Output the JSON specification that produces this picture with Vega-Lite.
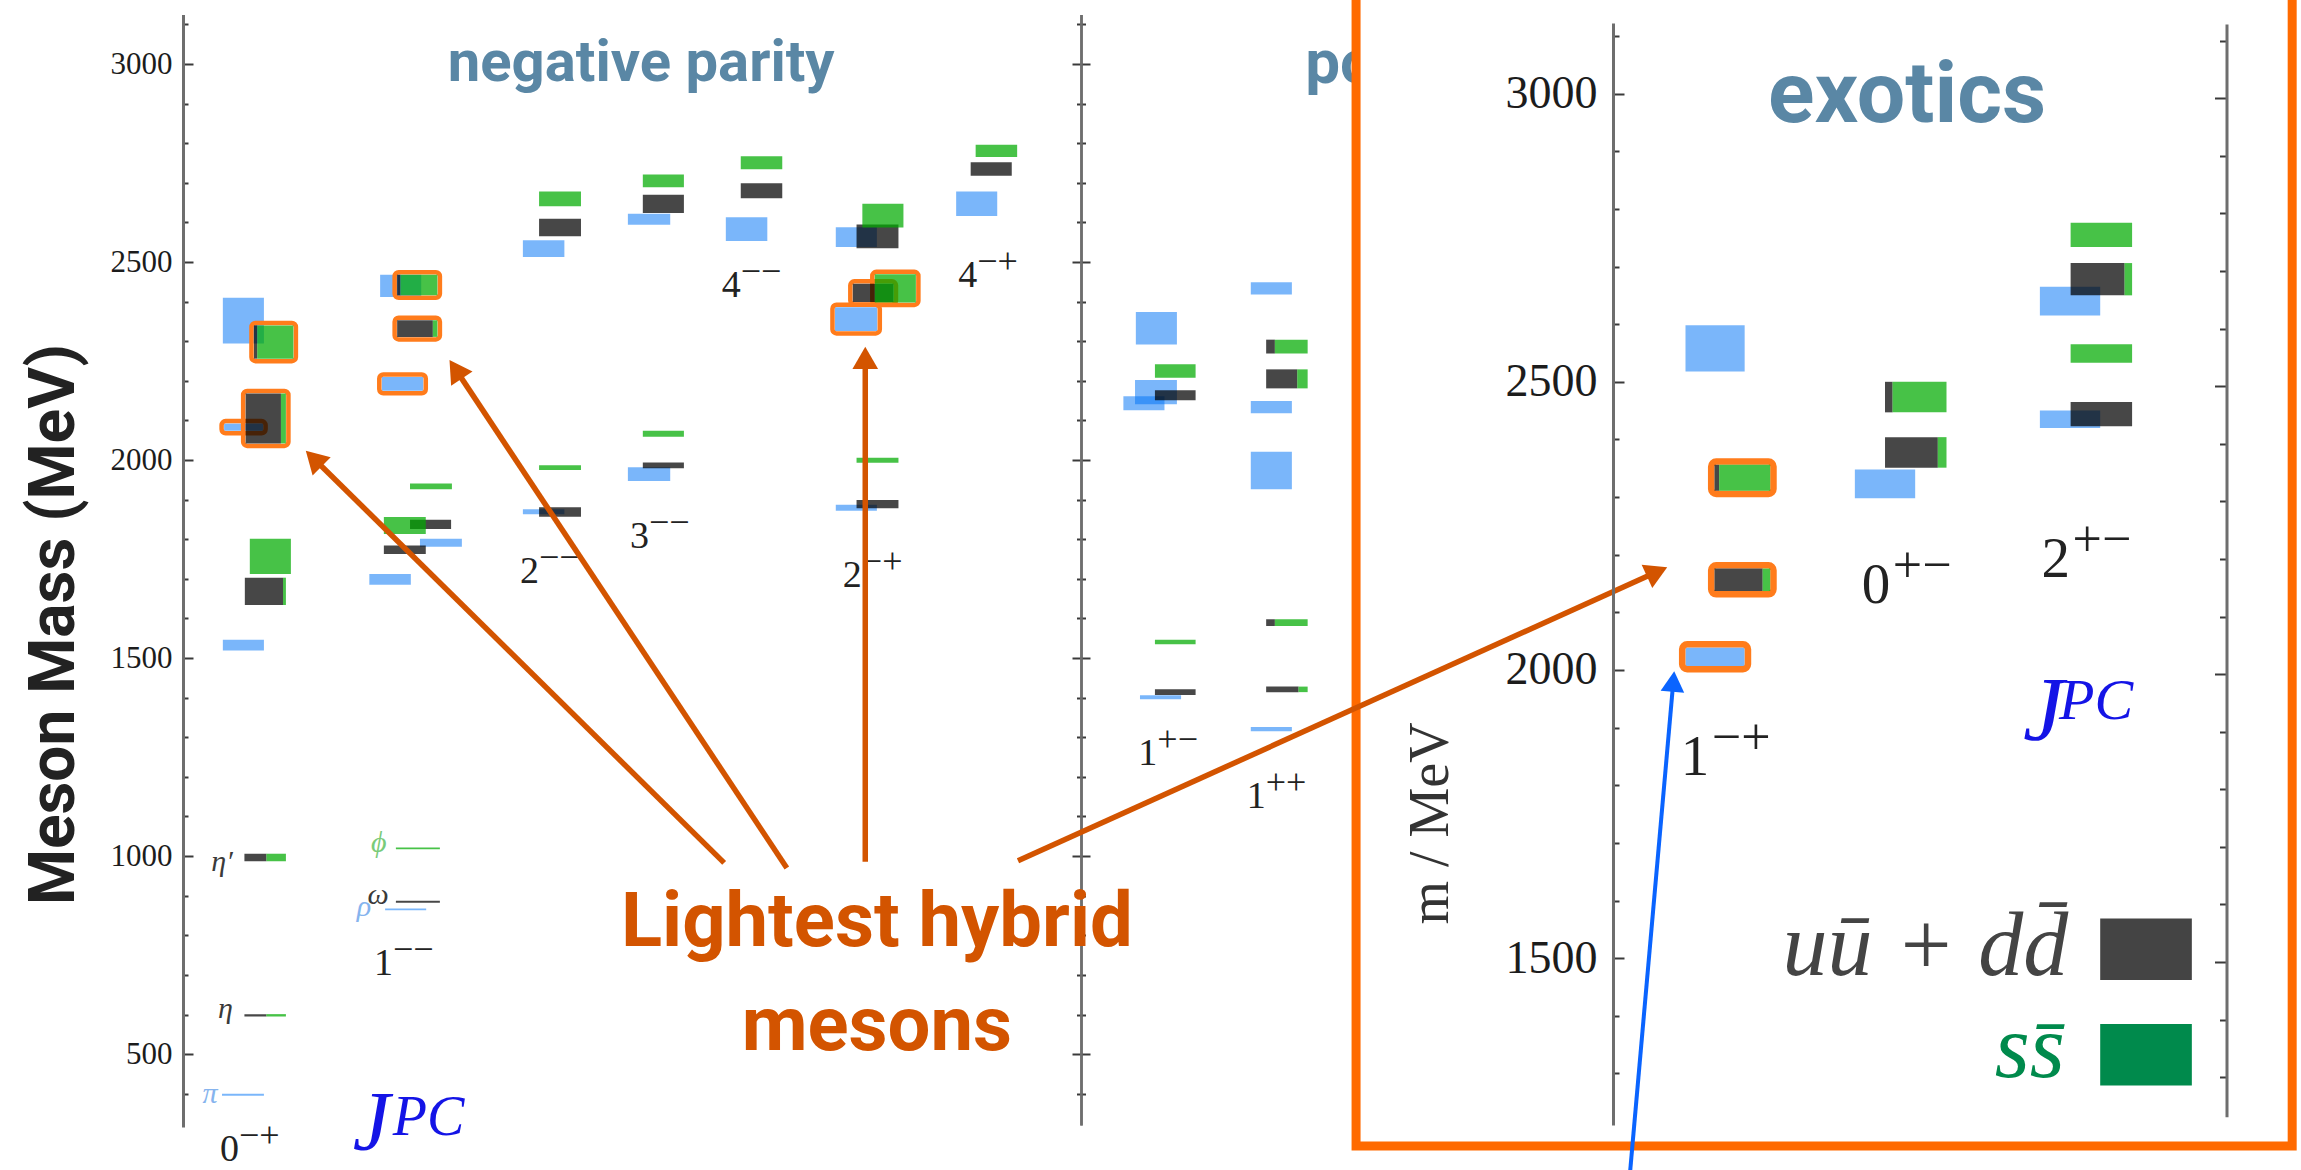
{
  "$schema": "https://vega.github.io/schema/vega-lite/v6.json",
  "width": 2301,
  "height": 1170,
  "autosize": {"type": "none"},
  "padding": 0,
  "background": "#ffffff",
  "config": {"view": {"stroke": null}, "font": "Liberation Serif"},
  "datasets": {
    "leftBoxes": [
      {"x1": 0.96, "x2": 1.95, "lo": 2294, "hi": 2410, "flavor": "isovector"},
      {"x1": 0.99, "x2": 1.93, "lo": 2074, "hi": 2092, "flavor": "isovector"},
      {"x1": 0.96, "x2": 1.95, "lo": 1519, "hi": 1546, "flavor": "isovector"},
      {"x1": 0.94, "x2": 1.95, "lo": 395, "hi": 400, "flavor": "isovector"},
      {"x1": 4.75, "x2": 5.74, "lo": 2412, "hi": 2468, "flavor": "isovector"},
      {"x1": 4.79, "x2": 5.79, "lo": 2175, "hi": 2210, "flavor": "isovector"},
      {"x1": 5.71, "x2": 6.72, "lo": 1781, "hi": 1801, "flavor": "isovector"},
      {"x1": 4.49, "x2": 5.49, "lo": 1685, "hi": 1712, "flavor": "isovector"},
      {"x1": 4.87, "x2": 5.86, "lo": 863, "hi": 868, "flavor": "isovector"},
      {"x1": 8.19, "x2": 9.19, "lo": 2513, "hi": 2555, "flavor": "isovector"},
      {"x1": 8.19, "x2": 9.19, "lo": 1863, "hi": 1876, "flavor": "isovector"},
      {"x1": 10.72, "x2": 11.74, "lo": 2594, "hi": 2622, "flavor": "isovector"},
      {"x1": 10.72, "x2": 11.74, "lo": 1947, "hi": 1982, "flavor": "isovector"},
      {"x1": 13.08, "x2": 14.08, "lo": 2553, "hi": 2613, "flavor": "isovector"},
      {"x1": 15.73, "x2": 16.72, "lo": 2538, "hi": 2588, "flavor": "isovector"},
      {"x1": 15.71, "x2": 16.73, "lo": 2326, "hi": 2386, "flavor": "isovector"},
      {"x1": 15.73, "x2": 16.72, "lo": 1872, "hi": 1887, "flavor": "isovector"},
      {"x1": 18.63, "x2": 19.62, "lo": 2616, "hi": 2678, "flavor": "isovector"},
      {"x1": 22.96, "x2": 23.95, "lo": 2292, "hi": 2374, "flavor": "isovector"},
      {"x1": 22.94, "x2": 23.95, "lo": 2141, "hi": 2202, "flavor": "isovector"},
      {"x1": 22.66, "x2": 23.65, "lo": 2126, "hi": 2161, "flavor": "isovector"},
      {"x1": 23.06, "x2": 24.05, "lo": 1396, "hi": 1406, "flavor": "isovector"},
      {"x1": 25.73, "x2": 26.72, "lo": 2418, "hi": 2449, "flavor": "isovector"},
      {"x1": 25.73, "x2": 26.72, "lo": 2118, "hi": 2149, "flavor": "isovector"},
      {"x1": 25.73, "x2": 26.72, "lo": 1926, "hi": 2021, "flavor": "isovector"},
      {"x1": 25.73, "x2": 26.72, "lo": 1315, "hi": 1326, "flavor": "isovector"},
      {"x1": 1.71, "x2": 1.79, "lo": 2256, "hi": 2340, "flavor": "light"},
      {"x1": 1.51, "x2": 2.36, "lo": 2042, "hi": 2168, "flavor": "light"},
      {"x1": 1.49, "x2": 2.41, "lo": 1634, "hi": 1703, "flavor": "light"},
      {"x1": 1.48, "x2": 2.01, "lo": 987, "hi": 1006, "flavor": "light"},
      {"x1": 1.48, "x2": 2.01, "lo": 595, "hi": 601, "flavor": "light"},
      {"x1": 5.16, "x2": 5.24, "lo": 2416, "hi": 2468, "flavor": "light"},
      {"x1": 5.16, "x2": 6.02, "lo": 2311, "hi": 2353, "flavor": "light"},
      {"x1": 5.47, "x2": 6.46, "lo": 1826, "hi": 1849, "flavor": "light"},
      {"x1": 4.84, "x2": 5.85, "lo": 1763, "hi": 1784, "flavor": "light"},
      {"x1": 5.13, "x2": 6.19, "lo": 882, "hi": 887, "flavor": "light"},
      {"x1": 8.58, "x2": 9.59, "lo": 2565, "hi": 2609, "flavor": "light"},
      {"x1": 8.58, "x2": 9.59, "lo": 1857, "hi": 1881, "flavor": "light"},
      {"x1": 11.08, "x2": 12.07, "lo": 2624, "hi": 2670, "flavor": "light"},
      {"x1": 11.08, "x2": 12.07, "lo": 1979, "hi": 1994, "flavor": "light"},
      {"x1": 13.44, "x2": 14.44, "lo": 2661, "hi": 2699, "flavor": "light"},
      {"x1": 16.23, "x2": 17.24, "lo": 2535, "hi": 2595, "flavor": "light"},
      {"x1": 16.14, "x2": 17.12, "lo": 2399, "hi": 2445, "flavor": "light"},
      {"x1": 16.23, "x2": 17.24, "lo": 1878, "hi": 1899, "flavor": "light"},
      {"x1": 18.98, "x2": 19.97, "lo": 2718, "hi": 2752, "flavor": "light"},
      {"x1": 23.42, "x2": 24.4, "lo": 2151, "hi": 2176, "flavor": "light"},
      {"x1": 23.42, "x2": 24.4, "lo": 1407, "hi": 1421, "flavor": "light"},
      {"x1": 26.1, "x2": 26.31, "lo": 2269, "hi": 2304, "flavor": "light"},
      {"x1": 26.1, "x2": 26.85, "lo": 2181, "hi": 2229, "flavor": "light"},
      {"x1": 26.1, "x2": 26.31, "lo": 1581, "hi": 1598, "flavor": "light"},
      {"x1": 26.1, "x2": 26.88, "lo": 1414, "hi": 1428, "flavor": "light"},
      {"x1": 1.79, "x2": 2.66, "lo": 2256, "hi": 2340, "flavor": "strange"},
      {"x1": 2.36, "x2": 2.48, "lo": 2042, "hi": 2168, "flavor": "strange"},
      {"x1": 1.61, "x2": 2.6, "lo": 1712, "hi": 1801, "flavor": "strange"},
      {"x1": 2.41, "x2": 2.48, "lo": 1634, "hi": 1703, "flavor": "strange"},
      {"x1": 2.01, "x2": 2.48, "lo": 987, "hi": 1006, "flavor": "strange"},
      {"x1": 2.01, "x2": 2.48, "lo": 595, "hi": 601, "flavor": "strange"},
      {"x1": 5.24, "x2": 6.13, "lo": 2416, "hi": 2468, "flavor": "strange"},
      {"x1": 6.02, "x2": 6.13, "lo": 2311, "hi": 2353, "flavor": "strange"},
      {"x1": 5.47, "x2": 6.48, "lo": 1926, "hi": 1941, "flavor": "strange"},
      {"x1": 4.84, "x2": 5.85, "lo": 1813, "hi": 1856, "flavor": "strange"},
      {"x1": 5.13, "x2": 6.19, "lo": 1017, "hi": 1022, "flavor": "strange"},
      {"x1": 8.58, "x2": 9.59, "lo": 2641, "hi": 2678, "flavor": "strange"},
      {"x1": 8.58, "x2": 9.59, "lo": 1975, "hi": 1987, "flavor": "strange"},
      {"x1": 11.08, "x2": 12.07, "lo": 2689, "hi": 2721, "flavor": "strange"},
      {"x1": 11.08, "x2": 12.07, "lo": 2059, "hi": 2074, "flavor": "strange"},
      {"x1": 13.44, "x2": 14.44, "lo": 2734, "hi": 2767, "flavor": "strange"},
      {"x1": 16.37, "x2": 17.36, "lo": 2587, "hi": 2647, "flavor": "strange"},
      {"x1": 16.67, "x2": 17.66, "lo": 2398, "hi": 2469, "flavor": "strange"},
      {"x1": 16.23, "x2": 17.24, "lo": 1993, "hi": 2006, "flavor": "strange"},
      {"x1": 19.1, "x2": 20.1, "lo": 2765, "hi": 2796, "flavor": "strange"},
      {"x1": 23.42, "x2": 24.4, "lo": 2208, "hi": 2242, "flavor": "strange"},
      {"x1": 23.42, "x2": 24.4, "lo": 1535, "hi": 1546, "flavor": "strange"},
      {"x1": 26.31, "x2": 27.1, "lo": 2269, "hi": 2304, "flavor": "strange"},
      {"x1": 26.85, "x2": 27.1, "lo": 2181, "hi": 2229, "flavor": "strange"},
      {"x1": 26.31, "x2": 27.1, "lo": 1581, "hi": 1598, "flavor": "strange"},
      {"x1": 26.88, "x2": 27.1, "lo": 1414, "hi": 1428, "flavor": "strange"}
    ],
    "leftHybrids": [
      {"x1": 1.71, "x2": 2.66, "lo": 2256, "hi": 2340},
      {"x1": 1.51, "x2": 2.48, "lo": 2042, "hi": 2168},
      {"x1": 0.99, "x2": 1.93, "lo": 2074, "hi": 2092},
      {"x1": 5.16, "x2": 6.13, "lo": 2416, "hi": 2468},
      {"x1": 5.16, "x2": 6.13, "lo": 2311, "hi": 2353},
      {"x1": 4.79, "x2": 5.79, "lo": 2175, "hi": 2210},
      {"x1": 15.71, "x2": 16.73, "lo": 2326, "hi": 2386},
      {"x1": 16.14, "x2": 17.12, "lo": 2399, "hi": 2445},
      {"x1": 16.67, "x2": 17.66, "lo": 2398, "hi": 2469}
    ],
    "leftGreek": [
      {"u": 0.65, "m": 377, "label": "π", "flavor": "isovector"},
      {"u": 1.02, "m": 591, "label": "η", "flavor": "light"},
      {"u": 0.94, "m": 962, "label": "η′", "flavor": "light"},
      {"u": 4.72, "m": 1010, "label": "ϕ", "flavor": "strange"},
      {"u": 4.7, "m": 880, "label": "ω", "flavor": "light"},
      {"u": 4.36, "m": 849, "label": "ρ", "flavor": "isovector"}
    ],
    "leftJPC": [
      {"u": 0.89, "m": 229, "J": "0", "PC": "−+"},
      {"u": 4.6, "m": 700, "J": "1", "PC": "−−"},
      {"u": 8.12, "m": 1689, "J": "2", "PC": "−−"},
      {"u": 10.77, "m": 1777, "J": "3", "PC": "−−"},
      {"u": 12.98, "m": 2412, "J": "4", "PC": "−−"},
      {"u": 15.9, "m": 1680, "J": "2", "PC": "−+"},
      {"u": 18.68, "m": 2438, "J": "4", "PC": "−+"},
      {"u": 23.02, "m": 1230, "J": "1", "PC": "+−"},
      {"u": 25.63, "m": 1121, "J": "1", "PC": "++"}
    ],
    "leftJ": [{"u": 4.09, "m": 258, "base": "J", "sup": "PC"}],
    "leftTitles": [
      {"u": 11.04, "m": 2956, "title": "negative parity", "side": "negative"},
      {"u": 27.04, "m": 2952, "title": "po", "side": "positive"}
    ],
    "insetFrame": [{"x1": -4.43, "x2": 11.71, "lo": 1174, "hi": 3197}],
    "insetBoxes": [
      {"x1": 1.25, "x2": 2.27, "lo": 2518, "hi": 2598, "flavor": "isovector"},
      {"x1": 1.25, "x2": 2.27, "lo": 2007, "hi": 2039, "flavor": "isovector"},
      {"x1": 4.17, "x2": 5.21, "lo": 2298, "hi": 2348, "flavor": "isovector"},
      {"x1": 7.36, "x2": 8.4, "lo": 2615, "hi": 2665, "flavor": "isovector"},
      {"x1": 7.36, "x2": 8.4, "lo": 2420, "hi": 2450, "flavor": "isovector"},
      {"x1": 1.75, "x2": 1.83, "lo": 2311, "hi": 2356, "flavor": "light"},
      {"x1": 1.75, "x2": 2.58, "lo": 2137, "hi": 2176, "flavor": "light"},
      {"x1": 4.69, "x2": 5.6, "lo": 2351, "hi": 2404, "flavor": "light"},
      {"x1": 4.69, "x2": 4.82, "lo": 2447, "hi": 2500, "flavor": "light"},
      {"x1": 7.89, "x2": 8.82, "lo": 2650, "hi": 2706, "flavor": "light"},
      {"x1": 7.89, "x2": 8.95, "lo": 2423, "hi": 2465, "flavor": "light"},
      {"x1": 1.83, "x2": 2.71, "lo": 2311, "hi": 2356, "flavor": "strange"},
      {"x1": 2.58, "x2": 2.71, "lo": 2137, "hi": 2176, "flavor": "strange"},
      {"x1": 5.6, "x2": 5.75, "lo": 2351, "hi": 2404, "flavor": "strange"},
      {"x1": 4.82, "x2": 5.75, "lo": 2447, "hi": 2500, "flavor": "strange"},
      {"x1": 7.89, "x2": 8.95, "lo": 2734, "hi": 2776, "flavor": "strange"},
      {"x1": 8.82, "x2": 8.95, "lo": 2650, "hi": 2706, "flavor": "strange"},
      {"x1": 7.89, "x2": 8.95, "lo": 2533, "hi": 2565, "flavor": "strange"}
    ],
    "insetHybrids": [
      {"x1": 1.75, "x2": 2.71, "lo": 2311, "hi": 2356},
      {"x1": 1.75, "x2": 2.71, "lo": 2137, "hi": 2176},
      {"x1": 1.25, "x2": 2.27, "lo": 2007, "hi": 2039}
    ],
    "insetJPC": [
      {"v": 1.17, "m": 1818, "J": "1", "PC": "−+"},
      {"v": 4.29, "m": 2117, "J": "0", "PC": "+−"},
      {"v": 7.39, "m": 2161, "J": "2", "PC": "+−"}
    ],
    "insetJ": [{"v": 7.07, "m": 1879, "base": "J", "sup": "PC"}],
    "insetTitle": [{"v": 5.07, "m": 2951, "title": "exotics"}],
    "insetLegend": [
      {"flavor": "light", "label": "uū + dd̄", "tv": 7.85, "tm": 1471, "x1": 8.4, "x2": 9.98, "lo": 1462, "hi": 1569},
      {"flavor": "strange", "label": "ss̄", "tv": 7.79, "tm": 1294, "x1": 8.4, "x2": 9.98, "lo": 1279, "hi": 1386}
    ],
    "blueArrow": [{"v1": 0.29, "m1": 1124, "v2": 1.04, "m2": 1980, "heading": 5.1}],
    "arrows": [
      {"u1": 13.04, "m1": 983, "u2": 3.15, "m2": 2004, "heading": -45.4},
      {"u1": 14.55, "m1": 970, "u2": 6.57, "m2": 2229, "heading": -33.6},
      {"u1": 16.44, "m1": 986, "u2": 16.44, "m2": 2258, "heading": 0},
      {"u1": 20.12, "m1": 988, "u2": 35.52, "m2": 1718, "heading": 65.6}
    ],
    "callout": [{"u": 16.72, "m": 774, "note": "Lightest hybrid|mesons"}],
    "axisAnchor": [{"m": 2000}]
  },
  "layer": [
    {
      "layer": [
        {
          "data": {"name": "leftBoxes"},
          "transform": [{"filter": "datum.flavor === 'isovector'"}],
          "mark": {"type": "rect"},
          "encoding": {
            "x": {"field": "x1", "type": "quantitative", "scale": {"domain": [0, 10], "range": [183, 598], "nice": false, "zero": false}, "axis": null},
            "x2": {"field": "x2"},
            "y": {"field": "lo", "type": "quantitative", "scale": {"domain": [316, 3125], "range": [1127, 14.5], "nice": false, "zero": false}, "axis": null},
            "y2": {"field": "hi"},
            "fill": {"field": "flavor", "type": "nominal", "scale": {"domain": ["isovector", "light", "strange"], "range": ["rgba(0,115,245,0.52)", "rgba(0,0,0,0.72)", "rgba(0,171,0,0.72)"]}, "legend": null}
          }
        },
        {
          "data": {"name": "leftHybrids"},
          "mark": {"type": "rect", "fill": "#ffffff", "fillOpacity": 0, "stroke": "#ff7c1c", "strokeWidth": 4.5, "cornerRadius": 4, "xOffset": -2.5, "x2Offset": 2.5, "yOffset": 2.5, "y2Offset": -2.5},
          "encoding": {
            "x": {"field": "x1", "type": "quantitative", "scale": {"domain": [0, 10], "range": [183, 598], "nice": false, "zero": false}, "axis": null},
            "x2": {"field": "x2"},
            "y": {"field": "lo", "type": "quantitative", "scale": {"domain": [316, 3125], "range": [1127, 14.5], "nice": false, "zero": false}, "axis": null},
            "y2": {"field": "hi"}
          }
        },
        {
          "data": {"name": "leftBoxes"},
          "transform": [{"filter": "datum.flavor !== 'isovector'"}],
          "mark": {"type": "rect"},
          "encoding": {
            "x": {"field": "x1", "type": "quantitative", "scale": {"domain": [0, 10], "range": [183, 598], "nice": false, "zero": false}, "axis": null},
            "x2": {"field": "x2"},
            "y": {"field": "lo", "type": "quantitative", "scale": {"domain": [316, 3125], "range": [1127, 14.5], "nice": false, "zero": false}, "axis": null},
            "y2": {"field": "hi"},
            "fill": {"field": "flavor", "type": "nominal", "scale": {"domain": ["isovector", "light", "strange"], "range": ["rgba(0,115,245,0.52)", "rgba(0,0,0,0.72)", "rgba(0,171,0,0.72)"]}, "legend": null}
          }
        },
        {
          "data": {"name": "leftGreek"},
          "mark": {"type": "text", "font": "Liberation Serif", "fontStyle": "italic", "fontSize": 30, "align": "center", "baseline": "alphabetic"},
          "encoding": {
            "x": {"field": "u", "type": "quantitative", "scale": {"domain": [0, 10], "range": [183, 598], "nice": false, "zero": false}, "axis": null},
            "y": {"field": "m", "type": "quantitative", "scale": {"domain": [316, 3125], "range": [1127, 14.5], "nice": false, "zero": false}, "axis": null},
            "text": {"field": "label"},
            "color": {"field": "flavor", "type": "nominal", "scale": {"domain": ["isovector", "light", "strange"], "range": ["#86b4ee", "#3a3a3a", "#7acb7a"]}, "legend": null}
          }
        },
        {
          "data": {"name": "leftJPC"},
          "mark": {"type": "text", "font": "Liberation Serif", "fontSize": 38, "align": "left", "baseline": "alphabetic", "color": "#222222"},
          "encoding": {
            "x": {"field": "u", "type": "quantitative", "scale": {"domain": [0, 10], "range": [183, 598], "nice": false, "zero": false}, "axis": null},
            "y": {"field": "m", "type": "quantitative", "scale": {"domain": [316, 3125], "range": [1127, 14.5], "nice": false, "zero": false}, "axis": null},
            "text": {"field": "J"}
          }
        },
        {
          "data": {"name": "leftJPC"},
          "mark": {"type": "text", "font": "Liberation Serif", "fontSize": 36, "align": "left", "baseline": "alphabetic", "color": "#222222", "dx": 19, "dy": -14},
          "encoding": {
            "x": {"field": "u", "type": "quantitative", "scale": {"domain": [0, 10], "range": [183, 598], "nice": false, "zero": false}, "axis": null},
            "y": {"field": "m", "type": "quantitative", "scale": {"domain": [316, 3125], "range": [1127, 14.5], "nice": false, "zero": false}, "axis": null},
            "text": {"field": "PC"}
          }
        },
        {
          "data": {"name": "leftJ"},
          "mark": {"type": "text", "font": "Liberation Serif", "fontStyle": "italic", "fontSize": 84, "align": "left", "baseline": "alphabetic", "color": "#1414e6"},
          "encoding": {
            "x": {"field": "u", "type": "quantitative", "scale": {"domain": [0, 10], "range": [183, 598], "nice": false, "zero": false}, "axis": null},
            "y": {"field": "m", "type": "quantitative", "scale": {"domain": [316, 3125], "range": [1127, 14.5], "nice": false, "zero": false}, "axis": null},
            "text": {"field": "base"}
          }
        },
        {
          "data": {"name": "leftJ"},
          "mark": {"type": "text", "font": "Liberation Serif", "fontStyle": "italic", "fontSize": 56, "align": "left", "baseline": "alphabetic", "color": "#1414e6", "dx": 40, "dy": -15},
          "encoding": {
            "x": {"field": "u", "type": "quantitative", "scale": {"domain": [0, 10], "range": [183, 598], "nice": false, "zero": false}, "axis": null},
            "y": {"field": "m", "type": "quantitative", "scale": {"domain": [316, 3125], "range": [1127, 14.5], "nice": false, "zero": false}, "axis": null},
            "text": {"field": "sup"}
          }
        },
        {
          "data": {"name": "leftTitles"},
          "transform": [{"filter": "datum.side === 'negative'"}],
          "mark": {"type": "text", "font": "Roboto", "fontWeight": "bold", "fontSize": 58, "align": "center", "baseline": "alphabetic", "color": "#5a87a5"},
          "encoding": {
            "x": {"field": "u", "type": "quantitative", "scale": {"domain": [0, 10], "range": [183, 598], "nice": false, "zero": false}, "axis": null},
            "y": {"field": "m", "type": "quantitative", "scale": {"domain": [316, 3125], "range": [1127, 14.5], "nice": false, "zero": false}, "axis": null},
            "text": {"field": "title"}
          }
        },
        {
          "data": {"name": "leftTitles"},
          "transform": [{"filter": "datum.side === 'positive'"}],
          "mark": {"type": "text", "font": "Roboto", "fontWeight": "bold", "fontSize": 62, "align": "left", "baseline": "alphabetic", "color": "#5a87a5"},
          "encoding": {
            "x": {"field": "u", "type": "quantitative", "scale": {"domain": [0, 10], "range": [183, 598], "nice": false, "zero": false}, "axis": null},
            "y": {"field": "m", "type": "quantitative", "scale": {"domain": [316, 3125], "range": [1127, 14.5], "nice": false, "zero": false}, "axis": null},
            "text": {"field": "title"}
          }
        }
      ]
    },
    {
      "data": {"name": "axisAnchor"},
      "mark": {"type": "point", "opacity": 0},
      "encoding": {
        "y": {
          "field": "m", "type": "quantitative",
          "scale": {"domain": [316, 3125], "range": [1127, 14.5], "nice": false, "zero": false},
          "axis": {
            "orient": "left", "offset": -183,
            "values": [400, 500, 600, 700, 800, 900, 1000, 1100, 1200, 1300, 1400, 1500, 1600, 1700, 1800, 1900, 2000, 2100, 2200, 2300, 2400, 2500, 2600, 2700, 2800, 2900, 3000, 3100],
            "format": "d",
            "labelExpr": "datum.value % 500 === 0 ? datum.label : ''",
            "tickSize": {"condition": {"test": "datum.value % 500 === 0", "value": -10}, "value": -5},
            "labelPadding": 21,
            "labelFont": "Liberation Serif", "labelFontSize": 31, "labelColor": "#1c1c1c",
            "labelOverlap": false, "labelFlush": false,
            "domainColor": "#6e6e6e", "domainWidth": 3,
            "tickColor": "#3a3a3a", "tickWidth": 2, "grid": false,
            "title": "Meson Mass (MeV)",
            "titleFont": "Roboto",
            "titleFontSize": 64, "titleFontWeight": "bold", "titleColor": "#222222",
            "titleAngle": -90, "titleX": -129, "titleY": 624, "titleAlign": "center", "titleBaseline": "middle",
            "zindex": 0
          }
        }
      }
    },
    {
      "data": {"name": "axisAnchor"},
      "mark": {"type": "point", "opacity": 0},
      "encoding": {
        "y": {
          "field": "m", "type": "quantitative",
          "scale": {"domain": [321, 3125], "range": [1125, 14.5], "nice": false, "zero": false},
          "axis": {
            "orient": "left", "offset": -1081,
            "values": [400, 500, 600, 700, 800, 900, 1000, 1100, 1200, 1300, 1400, 1500, 1600, 1700, 1800, 1900, 2000, 2100, 2200, 2300, 2400, 2500, 2600, 2700, 2800, 2900, 3000, 3100],
            "labels": false,
            "tickSize": {"condition": {"test": "datum.value % 500 === 0", "value": 9}, "value": 4.5},
            "domainColor": "#6e6e6e", "domainWidth": 2.5, "tickColor": "#3a3a3a", "tickWidth": 2,
            "grid": false, "title": null, "zindex": 0
          }
        }
      }
    },
    {
      "data": {"name": "axisAnchor"},
      "mark": {"type": "point", "opacity": 0},
      "encoding": {
        "y": {
          "field": "m", "type": "quantitative",
          "scale": {"domain": [321, 3125], "range": [1125, 14.5], "nice": false, "zero": false},
          "axis": {
            "orient": "right", "offset": -1220,
            "values": [400, 500, 600, 700, 800, 900, 1000, 1100, 1200, 1300, 1400, 1500, 1600, 1700, 1800, 1900, 2000, 2100, 2200, 2300, 2400, 2500, 2600, 2700, 2800, 2900, 3000, 3100],
            "labels": false,
            "tickSize": {"condition": {"test": "datum.value % 500 === 0", "value": 9}, "value": 4.5},
            "domainColor": "#6e6e6e", "domainWidth": 2.5, "tickColor": "#3a3a3a", "tickWidth": 2,
            "grid": false, "title": null, "zindex": 0
          }
        }
      }
    },
    {
      "layer": [
        {
          "data": {"name": "insetFrame"},
          "mark": {"type": "rect", "fill": "#ffffff", "stroke": "#ff6a00", "strokeWidth": 9},
          "encoding": {
            "x": {"field": "x1", "type": "quantitative", "scale": {"domain": [0, 10], "range": [1613, 2193], "nice": false, "zero": false}, "axis": null},
            "x2": {"field": "x2"},
            "y": {"field": "lo", "type": "quantitative", "scale": {"domain": [1210.6, 3122.5], "range": [1125, 23], "nice": false, "zero": false}, "axis": null},
            "y2": {"field": "hi"}
          }
        },
        {
          "data": {"name": "insetBoxes"},
          "transform": [{"filter": "datum.flavor === 'isovector'"}],
          "mark": {"type": "rect"},
          "encoding": {
            "x": {"field": "x1", "type": "quantitative", "scale": {"domain": [0, 10], "range": [1613, 2193], "nice": false, "zero": false}, "axis": null},
            "x2": {"field": "x2"},
            "y": {"field": "lo", "type": "quantitative", "scale": {"domain": [1210.6, 3122.5], "range": [1125, 23], "nice": false, "zero": false}, "axis": null},
            "y2": {"field": "hi"},
            "fill": {"field": "flavor", "type": "nominal", "scale": {"domain": ["isovector", "light", "strange"], "range": ["rgba(0,115,245,0.52)", "rgba(0,0,0,0.72)", "rgba(0,171,0,0.72)"]}, "legend": null}
          }
        },
        {
          "data": {"name": "insetHybrids"},
          "mark": {"type": "rect", "fill": "#ffffff", "fillOpacity": 0, "stroke": "#ff7c1c", "strokeWidth": 6.5, "cornerRadius": 5, "xOffset": -3.3, "x2Offset": 3.3, "yOffset": 3.3, "y2Offset": -3.3},
          "encoding": {
            "x": {"field": "x1", "type": "quantitative", "scale": {"domain": [0, 10], "range": [1613, 2193], "nice": false, "zero": false}, "axis": null},
            "x2": {"field": "x2"},
            "y": {"field": "lo", "type": "quantitative", "scale": {"domain": [1210.6, 3122.5], "range": [1125, 23], "nice": false, "zero": false}, "axis": null},
            "y2": {"field": "hi"}
          }
        },
        {
          "data": {"name": "insetBoxes"},
          "transform": [{"filter": "datum.flavor !== 'isovector'"}],
          "mark": {"type": "rect"},
          "encoding": {
            "x": {"field": "x1", "type": "quantitative", "scale": {"domain": [0, 10], "range": [1613, 2193], "nice": false, "zero": false}, "axis": null},
            "x2": {"field": "x2"},
            "y": {"field": "lo", "type": "quantitative", "scale": {"domain": [1210.6, 3122.5], "range": [1125, 23], "nice": false, "zero": false}, "axis": null},
            "y2": {"field": "hi"},
            "fill": {"field": "flavor", "type": "nominal", "scale": {"domain": ["isovector", "light", "strange"], "range": ["rgba(0,115,245,0.52)", "rgba(0,0,0,0.72)", "rgba(0,171,0,0.72)"]}, "legend": null}
          }
        },
        {
          "data": {"name": "insetJPC"},
          "mark": {"type": "text", "font": "Liberation Serif", "fontSize": 57, "align": "left", "baseline": "alphabetic", "color": "#222222"},
          "encoding": {
            "x": {"field": "v", "type": "quantitative", "scale": {"domain": [0, 10], "range": [1613, 2193], "nice": false, "zero": false}, "axis": null},
            "y": {"field": "m", "type": "quantitative", "scale": {"domain": [1210.6, 3122.5], "range": [1125, 23], "nice": false, "zero": false}, "axis": null},
            "text": {"field": "J"}
          }
        },
        {
          "data": {"name": "insetJPC"},
          "mark": {"type": "text", "font": "Liberation Serif", "fontSize": 52, "align": "left", "baseline": "alphabetic", "color": "#222222", "dx": 31, "dy": -21},
          "encoding": {
            "x": {"field": "v", "type": "quantitative", "scale": {"domain": [0, 10], "range": [1613, 2193], "nice": false, "zero": false}, "axis": null},
            "y": {"field": "m", "type": "quantitative", "scale": {"domain": [1210.6, 3122.5], "range": [1125, 23], "nice": false, "zero": false}, "axis": null},
            "text": {"field": "PC"}
          }
        },
        {
          "data": {"name": "insetJ"},
          "mark": {"type": "text", "font": "Liberation Serif", "fontStyle": "italic", "fontSize": 92, "align": "left", "baseline": "alphabetic", "color": "#1414e6"},
          "encoding": {
            "x": {"field": "v", "type": "quantitative", "scale": {"domain": [0, 10], "range": [1613, 2193], "nice": false, "zero": false}, "axis": null},
            "y": {"field": "m", "type": "quantitative", "scale": {"domain": [1210.6, 3122.5], "range": [1125, 23], "nice": false, "zero": false}, "axis": null},
            "text": {"field": "base"}
          }
        },
        {
          "data": {"name": "insetJ"},
          "mark": {"type": "text", "font": "Liberation Serif", "fontStyle": "italic", "fontSize": 58, "align": "left", "baseline": "alphabetic", "color": "#1414e6", "dx": 36, "dy": -21},
          "encoding": {
            "x": {"field": "v", "type": "quantitative", "scale": {"domain": [0, 10], "range": [1613, 2193], "nice": false, "zero": false}, "axis": null},
            "y": {"field": "m", "type": "quantitative", "scale": {"domain": [1210.6, 3122.5], "range": [1125, 23], "nice": false, "zero": false}, "axis": null},
            "text": {"field": "sup"}
          }
        },
        {
          "data": {"name": "insetTitle"},
          "mark": {"type": "text", "font": "Roboto", "fontWeight": "bold", "fontSize": 86, "align": "center", "baseline": "alphabetic", "color": "#5a87a5"},
          "encoding": {
            "x": {"field": "v", "type": "quantitative", "scale": {"domain": [0, 10], "range": [1613, 2193], "nice": false, "zero": false}, "axis": null},
            "y": {"field": "m", "type": "quantitative", "scale": {"domain": [1210.6, 3122.5], "range": [1125, 23], "nice": false, "zero": false}, "axis": null},
            "text": {"field": "title"}
          }
        },
        {
          "data": {"name": "insetLegend"},
          "mark": {"type": "rect"},
          "encoding": {
            "x": {"field": "x1", "type": "quantitative", "scale": {"domain": [0, 10], "range": [1613, 2193], "nice": false, "zero": false}, "axis": null},
            "x2": {"field": "x2"},
            "y": {"field": "lo", "type": "quantitative", "scale": {"domain": [1210.6, 3122.5], "range": [1125, 23], "nice": false, "zero": false}, "axis": null},
            "y2": {"field": "hi"},
            "color": {"field": "flavor", "type": "nominal", "scale": {"domain": ["light", "strange"], "range": ["#444444", "#008a4c"]}, "legend": null}
          }
        },
        {
          "data": {"name": "insetLegend"},
          "mark": {"type": "text", "font": "Liberation Serif", "fontStyle": "italic", "fontSize": 90, "align": "right", "baseline": "alphabetic"},
          "encoding": {
            "x": {"field": "tv", "type": "quantitative", "scale": {"domain": [0, 10], "range": [1613, 2193], "nice": false, "zero": false}, "axis": null},
            "y": {"field": "tm", "type": "quantitative", "scale": {"domain": [1210.6, 3122.5], "range": [1125, 23], "nice": false, "zero": false}, "axis": null},
            "text": {"field": "label"},
            "color": {"field": "flavor", "type": "nominal", "scale": {"domain": ["light", "strange"], "range": ["#444444", "#008a4c"]}, "legend": null}
          }
        },
        {
          "data": {"name": "blueArrow"},
          "mark": {"type": "rule", "color": "#0a64ff", "strokeWidth": 4},
          "encoding": {
            "x": {"field": "v1", "type": "quantitative", "scale": {"domain": [0, 10], "range": [1613, 2193], "nice": false, "zero": false}, "axis": null},
            "y": {"field": "m1", "type": "quantitative", "scale": {"domain": [1210.6, 3122.5], "range": [1125, 23], "nice": false, "zero": false}, "axis": null},
            "x2": {"field": "v2"},
            "y2": {"field": "m2"}
          }
        },
        {
          "data": {"name": "blueArrow"},
          "mark": {"type": "point", "shape": "triangle-up", "filled": true, "size": 560, "color": "#0a64ff", "opacity": 1},
          "encoding": {
            "x": {"field": "v2", "type": "quantitative", "scale": {"domain": [0, 10], "range": [1613, 2193], "nice": false, "zero": false}, "axis": null},
            "y": {"field": "m2", "type": "quantitative", "scale": {"domain": [1210.6, 3122.5], "range": [1125, 23], "nice": false, "zero": false}, "axis": null},
            "angle": {"field": "heading", "type": "quantitative", "scale": null}
          }
        }
      ]
    },
    {
      "data": {"name": "axisAnchor"},
      "mark": {"type": "point", "opacity": 0},
      "encoding": {
        "y": {
          "field": "m", "type": "quantitative",
          "scale": {"domain": [1210.6, 3122.5], "range": [1125, 23], "nice": false, "zero": false},
          "axis": {
            "orient": "left", "offset": -1613,
            "values": [1300, 1400, 1500, 1600, 1700, 1800, 1900, 2000, 2100, 2200, 2300, 2400, 2500, 2600, 2700, 2800, 2900, 3000, 3100],
            "format": "d",
            "labelExpr": "datum.value % 500 === 0 ? datum.label : ''",
            "tickSize": {"condition": {"test": "datum.value % 500 === 0", "value": -11}, "value": -6},
            "labelPadding": 27,
            "labelFont": "Liberation Serif", "labelFontSize": 46, "labelColor": "#1c1c1c",
            "labelOverlap": false, "labelFlush": false,
            "domainColor": "#6e6e6e", "domainWidth": 3,
            "tickColor": "#3a3a3a", "tickWidth": 2, "grid": false,
            "title": "m / MeV",
            "titleFont": "Liberation Serif", "titleFontSize": 56, "titleFontWeight": "normal", "titleColor": "#333333",
            "titleAngle": -90, "titleX": -183, "titleY": 823, "titleAlign": "center", "titleBaseline": "middle",
            "zindex": 1
          }
        }
      }
    },
    {
      "data": {"name": "axisAnchor"},
      "mark": {"type": "point", "opacity": 0},
      "encoding": {
        "y": {
          "field": "m", "type": "quantitative",
          "scale": {"domain": [1231.3, 3129], "range": [1116.7, 24], "nice": false, "zero": false},
          "axis": {
            "orient": "right", "offset": -74.5,
            "values": [1300, 1400, 1500, 1600, 1700, 1800, 1900, 2000, 2100, 2200, 2300, 2400, 2500, 2600, 2700, 2800, 2900, 3000, 3100],
            "labels": false,
            "tickSize": {"condition": {"test": "datum.value % 500 === 0", "value": -12}, "value": -7},
            "domainColor": "#6e6e6e", "domainWidth": 3, "tickColor": "#3a3a3a", "tickWidth": 2,
            "grid": false, "title": null, "zindex": 1
          }
        }
      }
    },
    {
      "layer": [
        {
          "data": {"name": "arrows"},
          "mark": {"type": "rule", "color": "#d35400", "strokeWidth": 5.5},
          "encoding": {
            "x": {"field": "u1", "type": "quantitative", "scale": {"domain": [0, 10], "range": [183, 598], "nice": false, "zero": false}, "axis": null},
            "y": {"field": "m1", "type": "quantitative", "scale": {"domain": [316, 3125], "range": [1127, 14.5], "nice": false, "zero": false}, "axis": null},
            "x2": {"field": "u2"},
            "y2": {"field": "m2"}
          }
        },
        {
          "data": {"name": "arrows"},
          "mark": {"type": "point", "shape": "triangle-up", "filled": true, "size": 660, "color": "#d35400", "opacity": 1},
          "encoding": {
            "x": {"field": "u2", "type": "quantitative", "scale": {"domain": [0, 10], "range": [183, 598], "nice": false, "zero": false}, "axis": null},
            "y": {"field": "m2", "type": "quantitative", "scale": {"domain": [316, 3125], "range": [1127, 14.5], "nice": false, "zero": false}, "axis": null},
            "angle": {"field": "heading", "type": "quantitative", "scale": null}
          }
        },
        {
          "data": {"name": "callout"},
          "mark": {"type": "text", "font": "Roboto", "fontWeight": "bold", "fontSize": 76, "align": "center", "baseline": "alphabetic", "color": "#d35400", "lineBreak": "|", "lineHeight": 104},
          "encoding": {
            "x": {"field": "u", "type": "quantitative", "scale": {"domain": [0, 10], "range": [183, 598], "nice": false, "zero": false}, "axis": null},
            "y": {"field": "m", "type": "quantitative", "scale": {"domain": [316, 3125], "range": [1127, 14.5], "nice": false, "zero": false}, "axis": null},
            "text": {"field": "note"}
          }
        }
      ]
    }
  ],
  "resolve": {"scale": {"x": "independent", "y": "independent", "fill": "independent", "color": "independent"}}
}
